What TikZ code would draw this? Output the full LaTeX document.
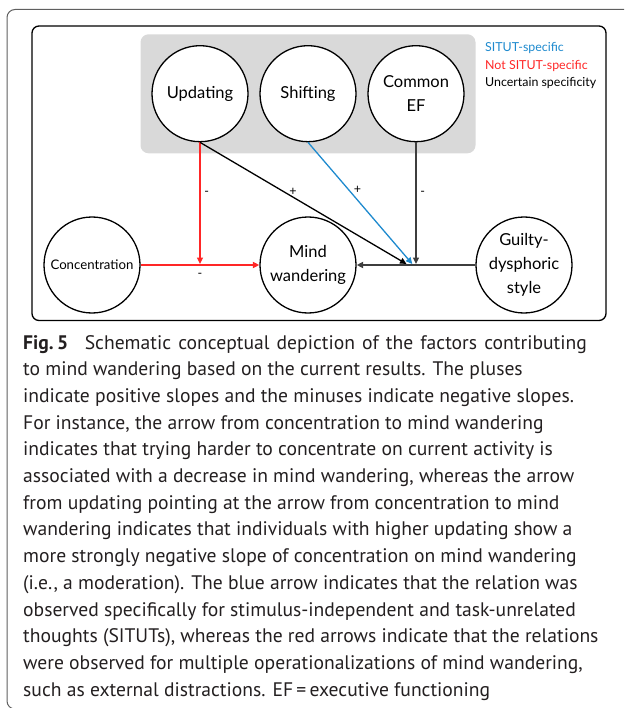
\documentclass[tikz,border=0pt]{standalone}
\usepackage{fontspec}
\setmainfont{PT Sans}
\newfontfamily\diagfont{Lato}
\usetikzlibrary{arrows.meta, positioning, calc}
\definecolor{figInk}{RGB}{0,0,0}
\definecolor{figFrame}{RGB}{95,95,95}
\definecolor{figPanel}{RGB}{217,217,217}
\definecolor{figRed}{RGB}{255,38,38}
\definecolor{figBlue}{RGB}{30,138,206}
\definecolor{figDark}{RGB}{62,62,62}
\definecolor{capInk}{RGB}{35,31,32}
\tikzset{
  % one round factor; the text size is the only thing that changes
  factor/.style={
    draw=figInk, fill=white, circle, line width=1.3pt,
    minimum size=96pt, inner sep=0pt, align=center,
    font=\diagfont\fontsize{16.5}{24}\selectfont
  },
  smallfactor/.style={factor, font=\diagfont\fontsize{13.2}{15}\selectfont},
  % arrows
  effect/.style={-{Triangle[length=6.5pt,width=6pt]}, line width=1.3pt},
  % the + and - beside the arrows
  sign/.style={font=\diagfont\fontsize{12.5}{12}\selectfont, inner sep=1pt, text=figInk},
  % legend lines at the top right
  key/.style={anchor=base west, inner sep=0pt, font=\diagfont\fontsize{12.4}{12}\selectfont},
  caption/.style={anchor=base west, inner sep=0pt, text=capInk},
}
\begin{document}
\begin{tikzpicture}[x=1pt, y=-1pt]
\useasboundingbox (0,0) rectangle (624,708);
\clip (0,0) rectangle (624,708);

% ============================ frames =======================================
\draw[figFrame, line width=1pt, rounded corners=8pt] (7,9.5) rectangle (660,709);
\draw[figInk, line width=1.3pt, rounded corners=7pt] (32,26) rectangle (606,320.5);

% the grey band round the three executive functions
\fill[figPanel, rounded corners=8pt] (140.5,34.3) rectangle (475.5,153.3);

% ============================ factors ======================================
\node[factor] (upd) at (200,93.7) {Updating};
\node[factor] (shf) at (308,93.7) {Shifting};
\node[factor] (cef) at (416,93.7) {Common\\EF};

\node[smallfactor] (con) at (92,265)  {Concentration};
\node[factor]      (mw)  at (308,265) {Mind\\wandering};
\node[factor]      (gds) at (524,265) {Guilty-\\dysphoric\\style};

% points on the horizontal arrows that the moderators aim at
\coordinate (hitupd) at (200,264);
\coordinate (hitblk) at (406.5,264);
\coordinate (hitshf) at (412.3,264);
\coordinate (hitcef) at (416,264);

% ============================ arrows =======================================
\draw[effect, figRed, line width=1.6pt] (con) -- (mw)
      node[sign, midway, below=6pt] {-};
\draw[effect, figDark, line width=1.6pt] (gds) -- (mw);

\draw[effect, figRed, line width=1.5pt] (upd.south) -- (hitupd)
      node[sign, pos=0.42, right=2.5pt] {-};
\draw[effect, figInk] (upd.south) -- (hitblk)
      node[sign, pos=0.45, above=0pt] {+};
\draw[effect, figBlue] (shf.south) -- (hitshf)
      node[sign, pos=0.43, above right=-1pt] {+};
\draw[effect, figDark, line width=1.5pt] (cef.south) -- (hitcef)
      node[sign, pos=0.42, right=2.5pt] {-};

% ============================ legend =======================================
\node[key, text=figBlue] (keyblue) at (485,52) {SITUT-specific};
\node[key, text=figRed]  (keyred)  at (485,70) {Not SITUT-specific};
\node[key, text=figInk]  (keyblk)  at (485,87) {Uncertain specificity};

% ============================ caption ======================================
\node[caption] (cap) at (23,349) {\parbox[t]{610pt}{\fontsize{19.6}{26.7}\selectfont\raggedright
  \textbf{Fig.\,5}\hspace{0.85em}\makebox[502pt][s]{Schematic conceptual depiction of the factors contributing}\\
  to mind wandering based on the current results. The pluses\\
  indicate positive slopes and the minuses indicate negative slopes.\\
  For instance, the arrow from concentration to mind wandering\\
  indicates that trying harder to concentrate on current activity is\\
  associated with a decrease in mind wandering, whereas the arrow\\
  from updating pointing at the arrow from concentration to mind\\
  wandering indicates that individuals with higher updating show a\\
  more strongly negative slope of concentration on mind wandering\\
  (i.e., a moderation). The blue arrow indicates that the relation was\\
  observed specifically for stimulus-independent and task-unrelated\\
  thoughts (SITUTs), whereas the red arrows indicate that the relations\\
  were observed for multiple operationalizations of mind wandering,\\
  such as external distractions. EF\,=\,executive functioning}};

\end{tikzpicture}
\end{document}
